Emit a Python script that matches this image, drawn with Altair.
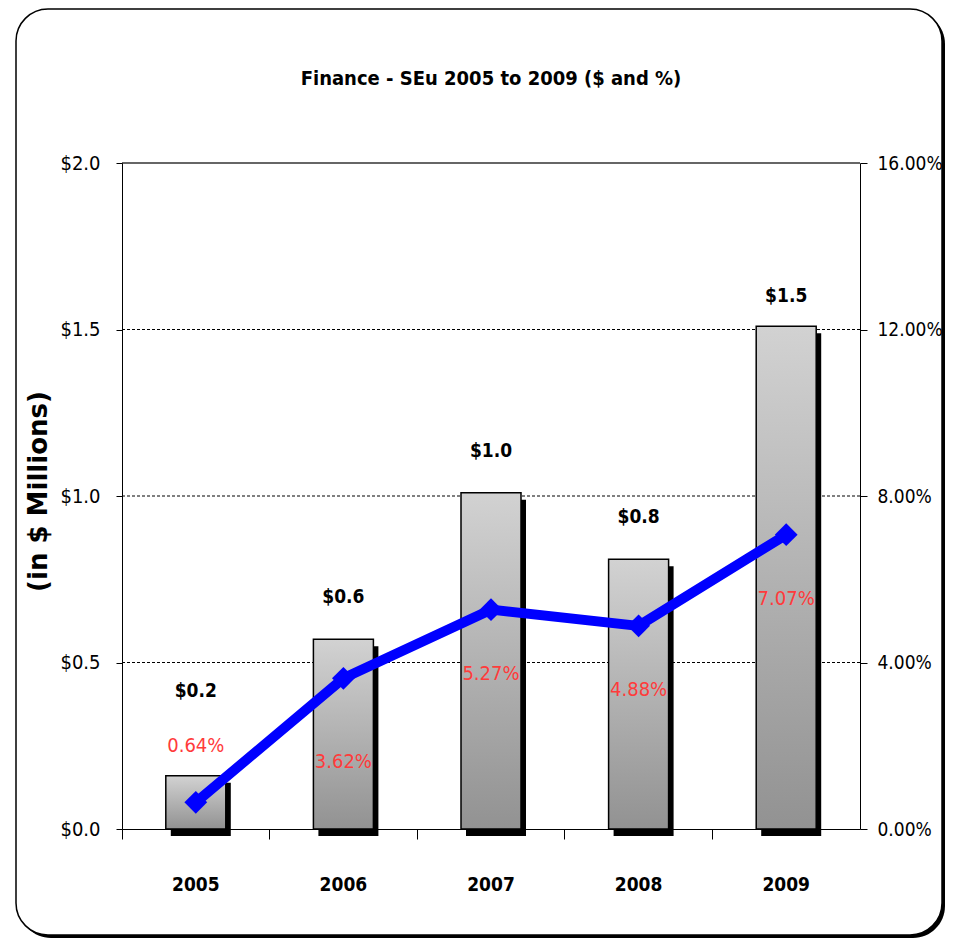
import altair as alt
import pandas as pd

years = ["2005", "2006", "2007", "2008", "2009"]
dollars = [0.16, 0.57, 1.01, 0.81, 1.51]
dollar_labels = ["$0.2", "$0.6", "$1.0", "$0.8", "$1.5"]
pct = [0.64, 3.62, 5.27, 4.88, 7.07]
pct_labels = ["0.64%", "3.62%", "5.27%", "4.88%", "7.07%"]
left_ticks = [0.0, 0.5, 1.0, 1.5, 2.0]
right_ticks = [0, 4, 8, 12, 16]
grid_dashed = [0.5, 1.0, 1.5]
grid_top = [2.0]

df = pd.DataFrame({"year": years, "dollars": dollars, "dlabel": dollar_labels,
                   "pct": pct, "plabel": pct_labels})
grid_df = pd.DataFrame({"v": grid_dashed})
top_df = pd.DataFrame({"v": grid_top})
frame_df = pd.DataFrame({"f": [0]})

FONT = "'DejaVu Sans Condensed', 'Liberation Sans', sans-serif"
W, H = 738, 666

x_axis = alt.Axis(title=None, bandPosition=0, labelOffset=0, tickSize=10,
                  labelPadding=36, labelFont=FONT, labelFontSize=19,
                  labelFontWeight="bold", labelColor="black", domainColor="black",
                  tickColor="black", labelAngle=0, zindex=1)
xenc = alt.X("year:N", sort=years, scale=alt.Scale(paddingInner=0, paddingOuter=0), axis=x_axis)

yscale = alt.Scale(domain=[0, 2])
y_axis = alt.Axis(values=left_ticks, format="$.1f", title="(in $ Millions)",
                  titleFont="DejaVu Sans", titleFontSize=26, titleFontWeight="bold",
                  titleX=-84, titleY=H / 2 - 5, titleAngle=-90, titleAlign="center",
                  titleBaseline="middle", titleColor="black",
                  labelFont=FONT, labelFontSize=20, labelColor="black", labelPadding=16,
                  tickSize=6, tickColor="black", domainColor="black", grid=False, zindex=1)
pscale = alt.Scale(domain=[0, 16])
p_axis = alt.Axis(values=right_ticks, orient="right", title=None,
                  labelExpr="format(datum.value, '.2f') + '%'",
                  labelFont=FONT, labelFontSize=19, labelColor="black", labelPadding=10,
                  tickSize=7, tickColor="black", domainColor="black", grid=False, zindex=1)


def ydol(field):
    return alt.Y(field, scale=yscale, axis=y_axis)


def ypct(field):
    return alt.Y(field, scale=pscale, axis=p_axis)


frame_shadow = alt.Chart(frame_df).mark_rect(cornerRadius=32, fill="black").encode(
    x=alt.value(-103), x2=alt.value(823), y=alt.value(-151), y2=alt.value(775))
frame = alt.Chart(frame_df).mark_rect(cornerRadius=32, fill="white", stroke="black",
                                      strokeWidth=1.5).encode(
    x=alt.value(-106), x2=alt.value(820), y=alt.value(-154), y2=alt.value(772))

grid = alt.Chart(grid_df).mark_rule(color="black", strokeWidth=1, strokeDash=[3, 2]).encode(
    y=ydol("v:Q"))
top_rule = alt.Chart(top_df).mark_rule(color="#333333", strokeWidth=1.5).encode(y=ydol("v:Q"))

base = alt.Chart(df)
bar_shadow = base.mark_bar(size=60, color="black", xOffset=5, x2Offset=5, yOffset=7,
                           y2Offset=5).encode(x=xenc, y=ydol("dollars:Q"))
bars = base.mark_bar(size=60, stroke="black", strokeWidth=1.5,
                     color=alt.Gradient(gradient="linear",
                                        stops=[alt.GradientStop(color="#d2d2d2", offset=0),
                                               alt.GradientStop(color="#929292", offset=1)],
                                        x1=0, x2=0, y1=0, y2=1)).encode(
    x=xenc, y=ydol("dollars:Q"))


def dlab(sel, dy):
    return base.transform_filter(alt.FieldOneOfPredicate(field="year", oneOf=sel)).mark_text(
        font=FONT, fontSize=19, fontWeight="bold", color="black", dy=dy, baseline="middle"
    ).encode(x=xenc, y=ydol("dollars:Q"), text="dlabel:N")


left = alt.layer(grid, top_rule, bar_shadow, bars,
                 dlab(["2005"], -85), dlab(["2006", "2007", "2008"], -42), dlab(["2009"], -30))

line = base.mark_line(color="#0000FF", strokeWidth=10).encode(x=xenc, y=ypct("pct:Q"))
pts = base.mark_point(shape="diamond", filled=True, size=520, color="#0000FF", opacity=1).encode(
    x=xenc, y=ypct("pct:Q"))


def plab(sel, dy):
    return base.transform_filter(alt.FieldOneOfPredicate(field="year", oneOf=sel)).mark_text(
        font=FONT, fontSize=20, color="#FF3B3B", dy=dy, baseline="middle"
    ).encode(x=xenc, y=ypct("pct:Q"), text="plabel:N")


right = alt.layer(line, pts, plab(["2005"], -56), plab(["2006"], 84),
                  plab(["2007", "2008", "2009"], 64))

chart = alt.layer(frame_shadow, frame, left, right).resolve_scale(y="independent").properties(
    width=W, height=H,
    title=alt.TitleParams("Finance - SEu 2005 to 2009 ($ and %)", font=FONT, fontSize=20,
                          fontWeight="bold", color="black", anchor="middle", offset=-81),
    autosize=alt.AutoSizeParams(type="none"),
    padding={"left": 114, "top": 155, "right": 86, "bottom": 110},
).configure_view(stroke=None)

chart.save("out.html", embed_options={"renderer": "svg", "actions": False})
